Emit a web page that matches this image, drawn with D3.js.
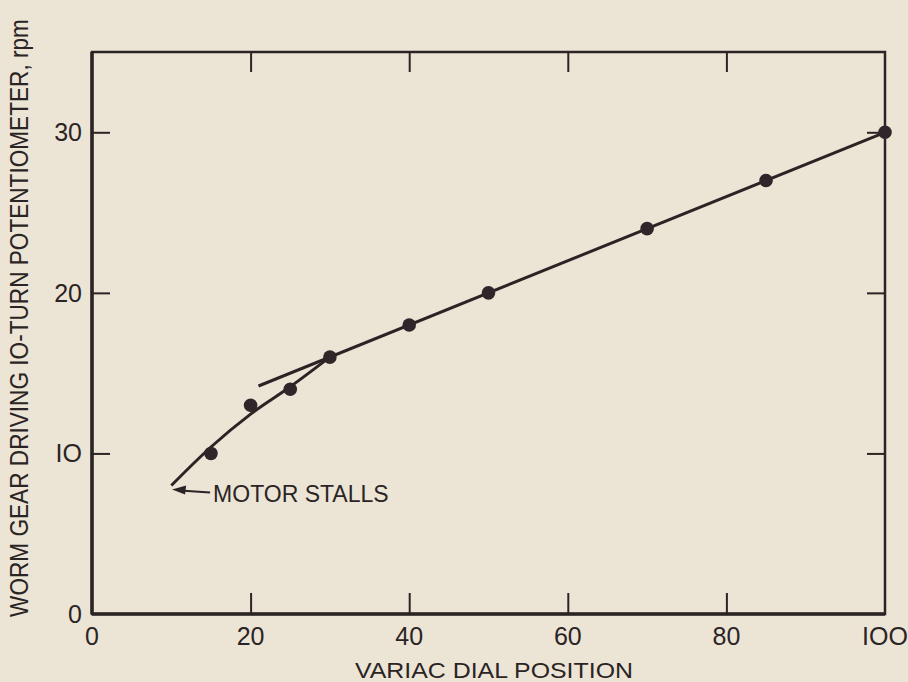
<!DOCTYPE html>
<html><head><meta charset="utf-8">
<script src="https://cdn.jsdelivr.net/npm/d3@7"></script>
<style>
html,body{margin:0;padding:0;background:#ece5d6;}
svg{display:block;}
text{font-family:"Liberation Sans",Arial,sans-serif;fill:#2b2424;}
</style></head><body>
<svg id="c" width="908" height="682"></svg>
<script>
// Data
const dialPos = [15, 20, 25, 30, 40, 50, 70, 85, 100];
const rpm     = [10, 13, 14, 16, 18, 20, 24, 27, 30];
const curveX  = [10, 15, 20, 25, 30];
const curveY  = [8, 10.4, 12.45, 14.15, 16];
const lineX   = [21, 100];
const lineY   = [14.2, 30];
const xTicks  = [0, 20, 40, 60, 80, 100];
const xTickLabels = ["0", "20", "40", "60", "80", "IOO"];
const yTicks  = [0, 10, 20, 30];
const yTickLabels = ["0", "IO", "20", "30"];
const xTitle = "VARIAC DIAL POSITION";
const yTitle = "WORM GEAR DRIVING IO-TURN POTENTIOMETER, rpm";
const annot = {text: "MOTOR STALLS", x: 10.1, y: 7.75};

const ink = "#2b2424";
const svg = d3.select("#c");
const L = 92, R = 885, T = 52, B = 614;
const x = d3.scaleLinear().domain([0, 100]).range([L, R]);
const y = d3.scaleLinear().domain([0, 35]).range([B, T]);

// frame
svg.append("rect").attr("x", L).attr("y", T).attr("width", R - L).attr("height", B - T)
  .attr("fill", "none").attr("stroke", ink).attr("stroke-width", 2.5);
svg.append("line").attr("x1", L).attr("x2", L).attr("y1", T).attr("y2", B).attr("stroke", ink).attr("stroke-width", 3.5);
svg.append("line").attr("x1", L).attr("x2", R).attr("y1", B).attr("y2", B).attr("stroke", ink).attr("stroke-width", 3.5);

// axes (inward ticks, drawn via d3 axes)
const fs = 25;
const xb = svg.append("g").attr("transform", `translate(0,${B})`)
  .call(d3.axisTop(x).tickValues(xTicks.slice(1, -1)).tickSize(21).tickFormat(""));
const xt = svg.append("g").attr("transform", `translate(0,${T})`)
  .call(d3.axisBottom(x).tickValues(xTicks.slice(1, -1)).tickSize(20).tickFormat(""));
const yl = svg.append("g").attr("transform", `translate(${L},0)`)
  .call(d3.axisRight(y).tickValues(yTicks.slice(1)).tickSize(18).tickFormat(""));
const yr = svg.append("g").attr("transform", `translate(${R},0)`)
  .call(d3.axisLeft(y).tickValues(yTicks.slice(1)).tickSize(18).tickFormat(""));
[xb, xt, yl, yr].forEach(g => {
  g.select(".domain").remove();
  g.selectAll(".tick line").attr("stroke", ink).attr("stroke-width", 2);
});

// tick labels
svg.append("g").selectAll("text").data(xTicks).join("text")
  .attr("x", d => x(d)).attr("y", B + 31).attr("text-anchor", "middle")
  .attr("font-size", fs).text((d, i) => xTickLabels[i]);
svg.append("g").selectAll("text").data(yTicks).join("text")
  .attr("x", L - 10).attr("y", d => y(d) + 9).attr("text-anchor", "end")
  .attr("font-size", fs).text((d, i) => yTickLabels[i]);

// titles
svg.append("text").attr("x", 494).attr("y", 678).attr("text-anchor", "middle")
  .attr("font-size", 21.5).attr("textLength", 278).attr("lengthAdjust", "spacingAndGlyphs").text(xTitle);
const yt = svg.append("text").attr("text-anchor", "middle").attr("font-size", 25).text(yTitle);
const natural = yt.node().getComputedTextLength();
const sx = 598 / natural;
yt.attr("transform", `translate(28,318) rotate(-90) scale(${sx},1)`);

// curve and straight line
const lineGen = d3.line().x(d => x(d[0])).y(d => y(d[1])).curve(d3.curveMonotoneX);
svg.append("path").attr("d", lineGen(curveX.map((v, i) => [v, curveY[i]])))
  .attr("fill", "none").attr("stroke", ink).attr("stroke-width", 3);
svg.append("path").attr("d", d3.line().x(d => x(d[0])).y(d => y(d[1]))(lineX.map((v, i) => [v, lineY[i]])))
  .attr("fill", "none").attr("stroke", ink).attr("stroke-width", 3);

// points
svg.append("g").selectAll("circle").data(dialPos).join("circle")
  .attr("cx", d => x(d)).attr("cy", (d, i) => y(rpm[i])).attr("r", 6.8).attr("fill", "#2e2628");

// annotation
const ax = x(annot.x), ay = y(annot.y);
svg.append("line").attr("x1", ax + 8).attr("y1", ay + 1).attr("x2", ax + 38).attr("y2", ay + 3)
  .attr("stroke", ink).attr("stroke-width", 2);
svg.append("path").attr("d", `M${ax},${ay} L${ax + 14},${ay - 4} L${ax + 13},${ay + 5} Z`).attr("fill", ink);
svg.append("text").attr("x", ax + 41).attr("y", ay + 12).attr("font-size", 23).text(annot.text);
</script>
</body></html>
